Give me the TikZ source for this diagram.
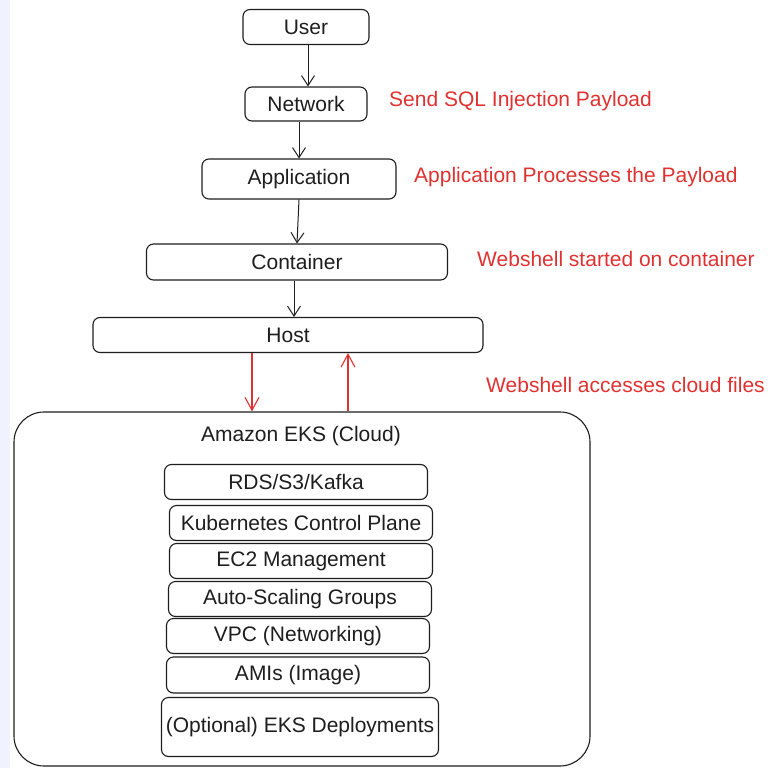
\documentclass[tikz,border=0pt]{standalone}
\usepackage{fontspec}
\setmainfont{Liberation Sans}
\usetikzlibrary{arrows.meta}
\definecolor{ink}{HTML}{1E1E1E}
\definecolor{alert}{HTML}{E03131}
\definecolor{strip}{HTML}{F0F2FE}

\begin{document}
\begin{tikzpicture}[x=1pt,y=-1pt,
    box/.style={draw=ink,line width=1.1pt,rounded corners=7pt,fill=white,inner sep=0pt,
      text=ink,font=\fontsize{21}{25}\selectfont},
    note/.style={anchor=west,inner sep=0pt,text=alert,font=\fontsize{21}{25}\selectfont},
    arr/.style={draw=ink,line width=1pt,-{Straight Barb[length=10pt,width=13pt]}},
    redarr/.style={draw=alert,line width=1.1pt,-{Straight Barb[length=13pt,width=14pt]}}]

      \useasboundingbox (0,0) rectangle (773,768);
      \fill[strip] (0,0) rectangle (10,768);

      % attack path
      \node[box,minimum width=126pt,minimum height=35pt] (user) at (306,27) {User};
      \node[box,minimum width=122pt,minimum height=34pt] (network) at (306,104) {Network};
      \node[box,minimum width=194pt,minimum height=40pt] (app) at (299,179) {Application};
      \node[box,minimum width=301pt,minimum height=36pt] (container) at (297,262) {Container};
      \node[box,minimum width=390pt,minimum height=35pt] (host) at (288,335) {Host};

      % cloud
      \node[box,rounded corners=30pt,minimum width=576pt,minimum height=354pt] (cloud) at (302,589) {};
      \node[text=ink,font=\fontsize{21}{25}\selectfont] (cloudtitle) at (301,436) {Amazon EKS (Cloud)};

      \begin{scope}[every node/.style={box,minimum width=263pt,minimum height=35pt}]
        \node (rds) at (296,482) {RDS/S3/Kafka};
        \node (k8s) at (301,523) {Kubernetes Control Plane};
        \node (ec2) at (301,561) {EC2 Management};
        \node (asg) at (300,599) {Auto-Scaling Groups};
        \node (vpc) at (298,636) {VPC (Networking)};
        \node[minimum height=36pt] (ami) at (298,675) {AMIs (Image)};
        \node[minimum width=277pt,minimum height=59pt] (eks) at (300,727) {(Optional) EKS Deployments};
      \end{scope}

      % red notes
      \node[note] (sqli) at (389,101) {Send SQL Injection Payload};
      \node[note] (proc) at (414,177) {Application Processes the Payload};
      \node[note] (shell) at (477,259) {Webshell started on container};
      \node[note] (files) at (486,385) {Webshell accesses cloud files};

      \draw[arr] ([xshift=2pt]user.south) -- ([xshift=2pt]network.north);
      \draw[arr] (network.south -| app.center) -- (app.north);
      \draw[arr] (app.south) -- (container.north);
      \draw[arr] ([xshift=-3pt]container.south) -- ([xshift=-3pt]container.south |- host.north);

      \draw[redarr] ([xshift=-36pt]host.south) -- ([xshift=-36pt]host.south |- cloud.north);
      \draw[redarr] ([xshift=60pt]host.south |- cloud.north) -- ([xshift=60pt]host.south);

\end{tikzpicture}
\end{document}
